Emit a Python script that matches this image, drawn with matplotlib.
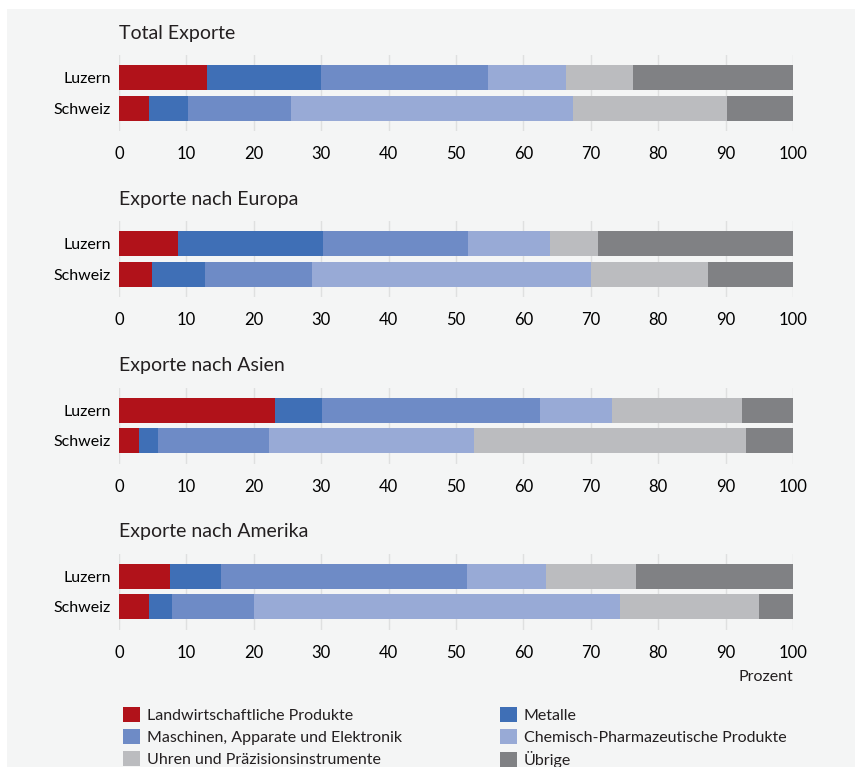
import numpy as np
import matplotlib
matplotlib.use('Agg')
import matplotlib.pyplot as plt
from matplotlib.patches import Rectangle, Patch

plt.rcParams['font.family'] = ['Lato', 'DejaVu Sans']
plt.rcParams['text.color'] = '#231f20'

# Data (shares in percent)
categories = ['Landwirtschaftliche Produkte', 'Metalle',
              'Maschinen, Apparate und Elektronik',
              'Chemisch-Pharmazeutische Produkte',
              'Uhren und Präzisionsinstrumente', 'Übrige']
colors = ['#b1121a', '#3f6fb6', '#6e8bc6', '#98aad6', '#bbbcbf', '#808184']
regions = ['Luzern', 'Schweiz']
titles = ['Total Exporte', 'Exporte nach Europa', 'Exporte nach Asien',
          'Exporte nach Amerika']

luzern_total = [13.1, 16.8, 24.9, 11.5, 9.9, 23.8]
schweiz_total = [4.4, 5.8, 15.3, 41.8, 22.9, 9.8]
luzern_europa = [8.8, 21.5, 21.5, 12.1, 7.2, 28.9]
schweiz_europa = [4.9, 7.9, 15.8, 41.5, 17.3, 12.6]
luzern_asien = [23.1, 7.0, 32.3, 10.7, 19.3, 7.6]
schweiz_asien = [2.9, 2.9, 16.5, 30.3, 40.4, 7.0]
luzern_amerika = [7.5, 7.7, 36.4, 11.8, 13.3, 23.3]
schweiz_amerika = [4.5, 3.3, 12.2, 54.3, 20.7, 5.0]

panels = [
    (luzern_total, schweiz_total),
    (luzern_europa, schweiz_europa),
    (luzern_asien, schweiz_asien),
    (luzern_amerika, schweiz_amerika),
]

W, H = 855, 767
fig = plt.figure(figsize=(W / 100, H / 100), dpi=100, facecolor='white')
fig.patches.append(Rectangle((7 / W, 0), 1, (H - 9) / H, transform=fig.transFigure,
                             facecolor='#f4f5f5', edgecolor='none', zorder=-10))

x0, x1 = 119, 793
offsets = [0, 166, 332.5, 498.5]

for (luz, sch), title, off in zip(panels, titles, offsets):
    top = 55 + off
    bottom = 131 + off
    ax = fig.add_axes([x0 / W, 1 - bottom / H, (x1 - x0) / W, (bottom - top) / H])
    ax.set_facecolor('none')
    data = np.array([luz, sch])
    left = np.zeros(2)
    for i, cat in enumerate(categories):
        ax.barh([0, 1], data[:, i], left=left, height=0.82, color=colors[i],
                label=cat, zorder=3)
        left += data[:, i]
    ax.set_xlim(0, 100)
    ax.set_ylim(1.75, -0.75)
    ax.set_xticks(np.arange(0, 101, 10))
    ax.set_yticks([0, 1])
    ax.set_yticklabels(regions)
    ax.grid(axis='x', color='#dfe0e0', linewidth=1, zorder=0)
    ax.tick_params(axis='x', length=0, pad=11, labelsize=12)
    ax.tick_params(axis='y', length=0, pad=6, labelsize=11.5)
    for s in ax.spines.values():
        s.set_visible(False)
    fig.text(x0 / W, 1 - (33 + off) / H, title, fontsize=14, ha='left', va='center')

fig.text(x1 / W, 1 - 677 / H, 'Prozent', fontsize=11.5, ha='right', va='center')

handles = [Patch(facecolor=c, edgecolor='none') for c in colors]
leg_kw = dict(frameon=False, fontsize=11.5, handlelength=1.05, handleheight=1.05,
              handletextpad=0.45, labelspacing=0.38, borderaxespad=0, borderpad=0)
fig.legend([handles[0], handles[2], handles[4]],
           [categories[0], categories[2], categories[4]],
           loc='upper left', bbox_to_anchor=(123 / W, 1 - 707 / H), **leg_kw)
fig.legend([handles[1], handles[3], handles[5]],
           [categories[1], categories[3], categories[5]],
           loc='upper left', bbox_to_anchor=(500 / W, 1 - 707 / H), **leg_kw)

fig.savefig('out.png', dpi=100, facecolor=fig.get_facecolor())
